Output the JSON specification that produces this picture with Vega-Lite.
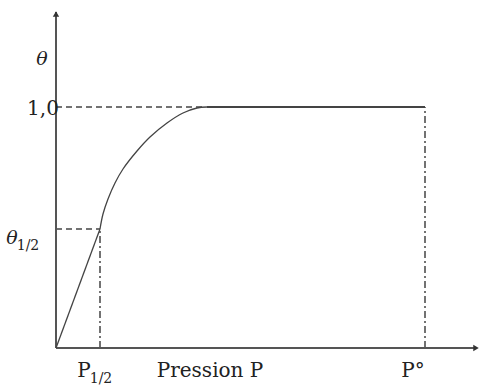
{
  "$schema": "https://vega.github.io/schema/vega-lite/v6.json",
  "width": 422,
  "height": 340,
  "autosize": {"type": "none"},
  "padding": {"left": 56, "top": 8, "right": 2, "bottom": 37},
  "background": "white",
  "config": {"view": {"stroke": null}},
  "datasets": {
    "axes": [
      {"name": "y", "x": 0, "y": 0, "x2": 0, "y2": 336},
      {"name": "x", "x": 0, "y": 0, "x2": 421, "y2": 0}
    ],
    "arrows": [
      {"name": "y", "x": 0, "y": 334, "dir": "up"},
      {"name": "x", "x": 420, "y": 0, "dir": "right"}
    ],
    "dashed": [
      {"x": 0, "y": 241, "x2": 150, "y2": 241},
      {"x": 0, "y": 119, "x2": 44, "y2": 119}
    ],
    "dashdot": [
      {"x": 44, "y": 0, "x2": 44, "y2": 119},
      {"x": 369, "y": 0, "x2": 369, "y2": 241}
    ],
    "linear": [
      {"p": 0, "theta": 0},
      {"p": 44, "theta": 119}
    ],
    "curve": [
      {"p": 44, "theta": 119},
      {"p": 47, "theta": 134},
      {"p": 52, "theta": 149},
      {"p": 59, "theta": 165},
      {"p": 67, "theta": 179},
      {"p": 81, "theta": 197},
      {"p": 94, "theta": 211},
      {"p": 111, "theta": 225},
      {"p": 127, "theta": 235},
      {"p": 141, "theta": 240},
      {"p": 151, "theta": 241}
    ],
    "plateau": [
      {"p": 151, "theta": 241},
      {"p": 369, "theta": 241}
    ],
    "italic": [
      {"t": "θ", "x": -14, "y": 283},
      {"t": "θ", "x": -44, "y": 104}
    ],
    "labels": [
      {"t": "1,0", "x": -13, "y": 233, "size": 20, "align": "right"},
      {"t": "1/2", "x": -28, "y": 98, "size": 14, "align": "left"},
      {"t": "P", "x": 28, "y": -29, "size": 20, "align": "left"},
      {"t": "1/2", "x": 45, "y": -35, "size": 14, "align": "left"},
      {"t": "Pression P", "x": 154, "y": -29, "size": 20, "align": "left"},
      {"t": "P°", "x": 357, "y": -29, "size": 20, "align": "left"}
    ]
  },
  "layer": [
    {
      "data": {"name": "dashed"},
      "mark": {"type": "rule", "color": "#444", "strokeWidth": 1.5, "strokeDash": [6, 4]},
      "encoding": {
        "x": {"field": "x", "type": "quantitative", "scale": {"domain": [0, 422], "nice": false, "zero": false}, "axis": null},
        "y": {"field": "y", "type": "quantitative", "scale": {"domain": [0, 340], "nice": false, "zero": false}, "axis": null},
        "x2": {"field": "x2"},
        "y2": {"field": "y2"}
      }
    },
    {
      "data": {"name": "dashdot"},
      "mark": {"type": "rule", "color": "#444", "strokeWidth": 1.5, "strokeDash": [7, 3, 2, 3]},
      "encoding": {
        "x": {"field": "x", "type": "quantitative"},
        "y": {"field": "y", "type": "quantitative"},
        "x2": {"field": "x2"},
        "y2": {"field": "y2"}
      }
    },
    {
      "data": {"name": "axes"},
      "mark": {"type": "rule", "color": "#555", "strokeWidth": 2},
      "encoding": {
        "x": {"field": "x", "type": "quantitative"},
        "y": {"field": "y", "type": "quantitative"},
        "x2": {"field": "x2"},
        "y2": {"field": "y2"}
      }
    },
    {
      "data": {"name": "arrows"},
      "mark": {"type": "point", "filled": true, "color": "#333", "size": 40, "opacity": 1},
      "encoding": {
        "x": {"field": "x", "type": "quantitative"},
        "y": {"field": "y", "type": "quantitative"},
        "shape": {"field": "dir", "type": "nominal", "scale": {"domain": ["up", "right"], "range": ["triangle-up", "triangle-right"]}, "legend": null}
      }
    },
    {
      "data": {"name": "linear"},
      "mark": {"type": "line", "color": "#444", "strokeWidth": 1.3},
      "encoding": {
        "x": {"field": "p", "type": "quantitative"},
        "y": {"field": "theta", "type": "quantitative"}
      }
    },
    {
      "data": {"name": "curve"},
      "mark": {"type": "line", "color": "#444", "strokeWidth": 1.3, "interpolate": "catmull-rom"},
      "encoding": {
        "x": {"field": "p", "type": "quantitative"},
        "y": {"field": "theta", "type": "quantitative"}
      }
    },
    {
      "data": {"name": "plateau"},
      "mark": {"type": "line", "color": "#444", "strokeWidth": 1.8},
      "encoding": {
        "x": {"field": "p", "type": "quantitative"},
        "y": {"field": "theta", "type": "quantitative"}
      }
    },
    {
      "data": {"name": "italic"},
      "mark": {"type": "text", "font": "DejaVu Serif", "fontStyle": "italic", "fontSize": 19, "color": "#222", "baseline": "alphabetic", "align": "center"},
      "encoding": {
        "x": {"field": "x", "type": "quantitative"},
        "y": {"field": "y", "type": "quantitative"},
        "text": {"field": "t"}
      }
    },
    {
      "data": {"name": "labels"},
      "mark": {"type": "text", "font": "DejaVu Serif", "color": "#222", "baseline": "alphabetic"},
      "encoding": {
        "x": {"field": "x", "type": "quantitative"},
        "y": {"field": "y", "type": "quantitative"},
        "text": {"field": "t"},
        "size": {"field": "size", "type": "quantitative", "scale": null},
        "align": {"field": "align", "type": "nominal", "scale": null}
      }
    }
  ]
}
